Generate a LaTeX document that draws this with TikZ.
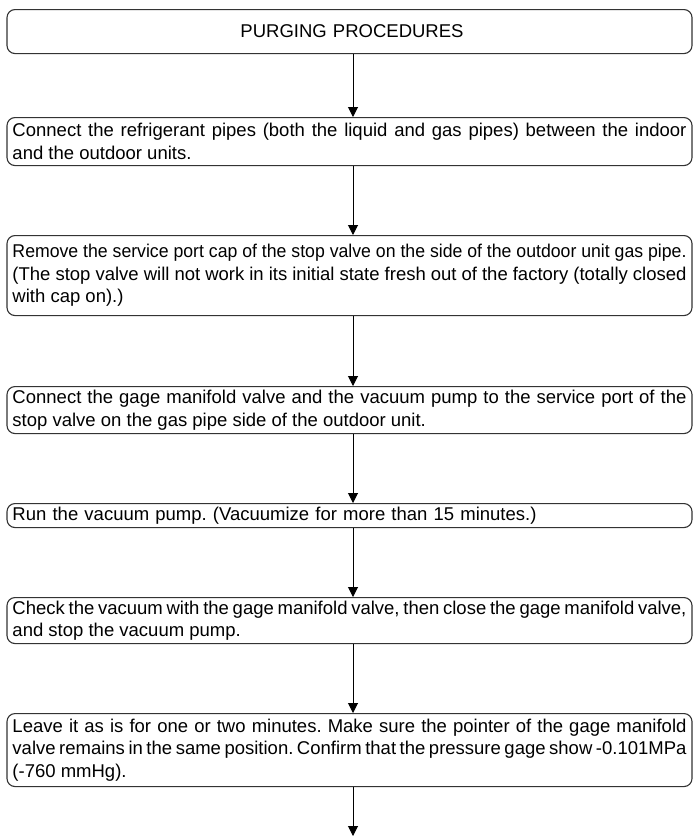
\documentclass[tikz,border=0pt]{standalone}
\usepackage{fontspec}
\setmainfont{Liberation Sans}
\usetikzlibrary{arrows.meta}
\newcommand\fsz{\fontsize{18.5}{22.5}\selectfont\frenchspacing}
\newsavebox\jbox
\newcommand\jline[1]{\spaceskip=0pt\xspaceskip=0pt\relax
  \setbox\jbox\hbox to\linewidth{#1}%
  \ifnum\badness>10000
    \setbox\jbox\hbox{#1}\noindent\resizebox{\linewidth}{\height}{\usebox\jbox}%
  \else
    \noindent\usebox\jbox
  \fi\par}
\hbadness=100000 \hfuzz=1000pt
\begin{document}
\begin{tikzpicture}[x=1pt,y=-1pt,
  stepbox/.style={draw=black!80, line width=1.1pt, rounded corners=8pt,
    text width=674pt, inner xsep=5.5pt, inner ysep=0pt, align=left,
    font=\fsz, anchor=north},
  titlebox/.style={stepbox, align=center},
  arr/.style={draw=black, line width=1pt, -{Triangle[width=10pt,length=10pt]}}]
\useasboundingbox (0,0) rectangle (693,839);
\coordinate (ax) at (353,0);
\node[titlebox, minimum height=44pt] (T) at (349.5,9) {\hspace*{5pt}PURGING PROCEDURES};
\node[stepbox, minimum height=48pt] (B1) at (349.5,117)
  {\jline{Connect the refrigerant pipes (both the liquid and gas pipes) between the indoor}
   and the outdoor units.};
\node[stepbox, minimum height=80pt] (B2) at (349.5,235)
  {\jline{Remove the service port cap of the stop valve on the side of the outdoor unit gas pipe.}
   \jline{(The stop valve will not work in its initial state fresh out of the factory (totally closed}
   with cap on).)};
\node[stepbox, minimum height=47pt] (B3) at (349.5,386)
  {\jline{Connect the gage manifold valve and the vacuum pump to the service port of the}
   stop valve on the gas pipe side of the outdoor unit.};
\node[stepbox, minimum height=24pt] (B4) at (349.5,503)
  {Run the vacuum pump. (Vacuumize for more than 15 minutes.)};
\node[stepbox, minimum height=46pt] (B5) at (349.5,597)
  {\jline{Check the vacuum with the gage manifold valve, then close the gage manifold valve,}
   and stop the vacuum pump.};
\node[stepbox, minimum height=73pt] (B6) at (349.5,713)
  {\jline{Leave it as is for one or two minutes. Make sure the pointer of the gage manifold}
   \jline{valve remains in the same position. Confirm that the pressure gage show -0.101MPa}
   (-760 mmHg).};
\coordinate (end) at (353,836);
\draw[arr] (T.south -| ax) -- (B1.north -| ax);
\draw[arr] (B1.south -| ax) -- (B2.north -| ax);
\draw[arr] (B2.south -| ax) -- (B3.north -| ax);
\draw[arr] (B3.south -| ax) -- (B4.north -| ax);
\draw[arr] (B4.south -| ax) -- (B5.north -| ax);
\draw[arr] (B5.south -| ax) -- (B6.north -| ax);
\draw[arr] (B6.south -| ax) -- (end);
\end{tikzpicture}
\end{document}
